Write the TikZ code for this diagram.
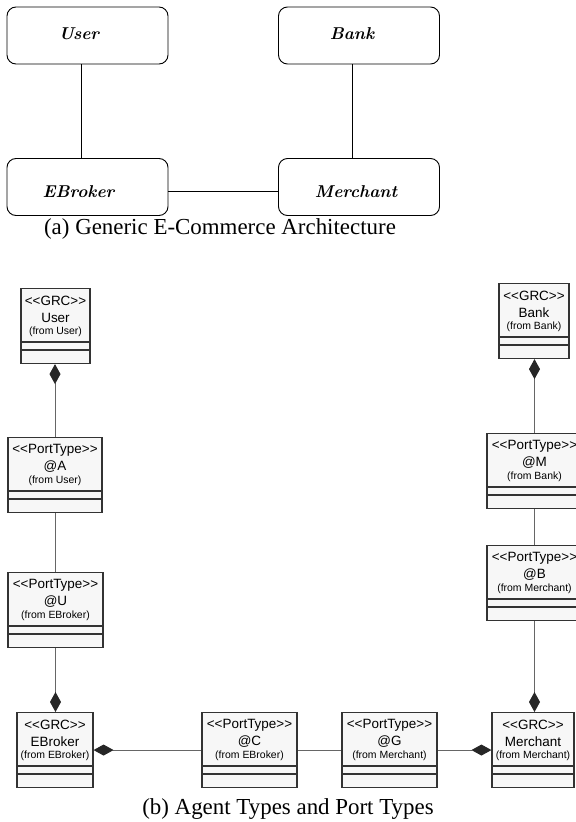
\documentclass[tikz,border=0pt]{standalone}
\usepackage{fontspec}
\setmainfont{Liberation Serif}
\setsansfont{Liberation Sans}[Ligatures=TeXOff]
\newfontfamily\labelfont{Latin Modern Roman}
\usetikzlibrary{arrows.meta}

\tikzset{
  archbox/.style={draw=black, line width=0.9bp, rounded corners=9bp,
    minimum width=161bp, minimum height=57bp, inner sep=0pt},
  archlabel/.style={font=\labelfont\bfseries\itshape\fontsize{17.2}{20}\selectfont,
    anchor=base, inner sep=0pt},
  archlink/.style={draw=black, line width=0.8bp},
  figcaption/.style={font=\fontsize{23}{27}\selectfont, anchor=base, inner sep=0pt},
  classbox/.style={draw=black!80, fill=black!3, line width=1.1bp, inner sep=0pt,
    minimum height=75bp},
  classrule/.style={draw=black!80, line width=1.1bp},
  stereo/.style={font=\sffamily\fontsize{13.5}{16}\selectfont, inner sep=0pt},
  origin/.style={font=\sffamily\fontsize{10.5}{12}\selectfont, inner sep=0pt},
  assoc/.style={draw=black!60, line width=1bp},
  compose/.style={assoc, -{Diamond[length=20bp, width=11bp, fill=black!85, color=black!85]}},
}

% UML class box: name, centre x, top y, width, stereotype, title, origin
\newcommand{\umlclass}[7]{%
  \node[classbox, minimum width=#4bp, anchor=north] (#1) at (#2,#3) {};
  \draw[classrule] ([yshift=-54bp]#1.north west) -- ([yshift=-54bp]#1.north east);
  \draw[classrule] ([yshift=-62bp]#1.north west) -- ([yshift=-62bp]#1.north east);
  \node[stereo] (#1-s) at (#2,#3+13) {<<#5>>};
  \node[stereo] (#1-t) at (#2,#3+30) {#6};
  \node[origin] (#1-o) at (#2,#3+44) {(from #7)};
}

\begin{document}
\begin{tikzpicture}[x=1bp, y=-1bp]
\useasboundingbox (0,0) rectangle (576,822);
\clip (0,0) rectangle (576,822);

% ---- (a) generic architecture ----
\node[archbox] (user)     at (87.5,35.5) {};
\node[archbox] (bank)     at (359,35.5)  {};
\node[archbox] (ebroker)  at (87.5,187)  {};
\node[archbox] (merchant) at (359,187)   {};

\node[archlabel] (userL)     at (79,39.5)  {User};
\node[archlabel] (bankL)     at (352,39.5) {Bank};
\node[archlabel] (ebrokerL)  at (78.5,197) {EBroker};
\node[archlabel] (merchantL) at (356,197)  {Merchant};

\draw[archlink] ([xshift=-6.5bp]user.south) -- ([xshift=-6.5bp]ebroker.north);
\draw[archlink] ([xshift=-7bp]bank.south) -- ([xshift=-7bp]merchant.north);
\draw[archlink] ([yshift=-4bp]ebroker.east) -- ([yshift=-4bp]merchant.west);

\node[figcaption] (capA) at (220,234.5) {(a) Generic E-Commerce Architecture};

% ---- (b) agent types and port types ----
\umlclass{grcUser}{55.5}{288}{69}{GRC}{User}{User}
\umlclass{portA}{55}{437}{94}{PortType}{@A}{User}
\umlclass{portU}{55.5}{572}{95}{PortType}{@U}{EBroker}
\umlclass{grcEBroker}{55}{712}{76}{GRC}{EBroker}{EBroker}
\umlclass{portC}{249.5}{712}{95}{PortType}{@C}{EBroker}
\umlclass{portG}{389.5}{712}{95}{PortType}{@G}{Merchant}
\umlclass{grcMerchant}{533}{712}{82}{GRC}{Merchant}{Merchant}
\umlclass{grcBank}{534}{283}{70}{GRC}{Bank}{Bank}
\umlclass{portM}{534.5}{433}{95}{PortType}{@M}{Bank}
\umlclass{portB}{534.5}{545}{95}{PortType}{@B}{Merchant}

% left column
\draw[compose] (portA.north) -- (portA.north |- grcUser.south);
\draw[assoc]   (portA.south) -- (portA.south |- portU.north);
\draw[compose] (portU.south) -- (portU.south |- grcEBroker.north);
% bottom row
\draw[compose] (portC.west) -- (grcEBroker.east);
\draw[assoc]   (portC.east) -- (portG.west);
\draw[compose] (portG.east) -- (grcMerchant.west);
% right column
\draw[compose] (portM.north) -- (portM.north |- grcBank.south);
\draw[assoc]   (portM.south) -- (portB.north);
\draw[compose] (portB.south) -- (portB.south |- grcMerchant.north);

\node[figcaption] (capB) at (288,814) {(b) Agent Types and Port Types};
\end{tikzpicture}
\end{document}
